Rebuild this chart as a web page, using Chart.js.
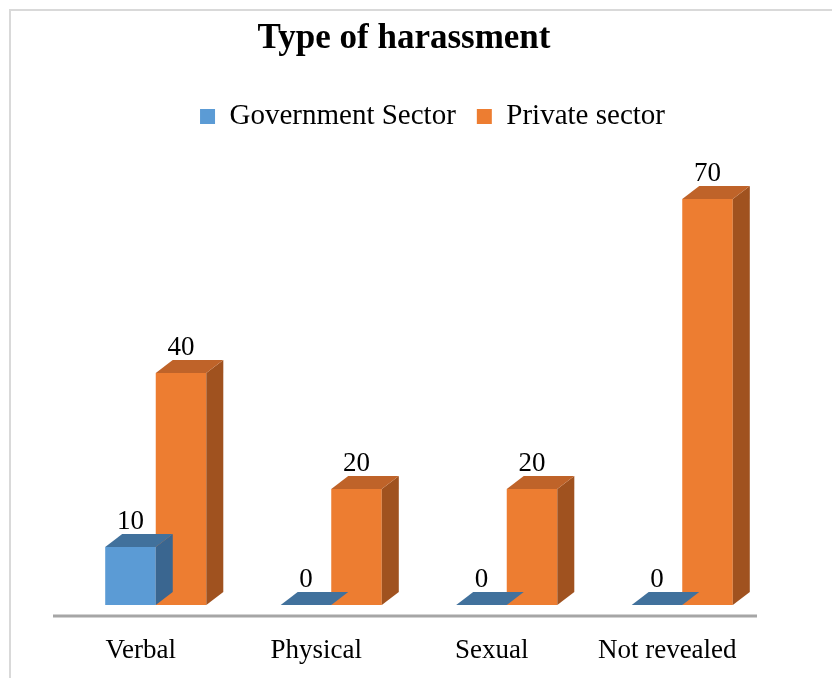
<!DOCTYPE html>
<html>
<head>
<meta charset="utf-8">
<script src="https://cdn.jsdelivr.net/npm/chart.js@4.4.1/dist/chart.umd.min.js"></script>
<style>
  body { margin: 0; background: #fff; }
  #frame {
    position: absolute; left: 9px; top: 9px; width: 900px; height: 760px;
    border-left: 2px solid #d9d9d9; border-top: 2px solid #d9d9d9;
  }
  #wrap { position: absolute; left: 0; top: 0; width: 832px; height: 678px; }
</style>
</head>
<body>
<div id="frame"></div>
<div id="wrap"><canvas id="container"></canvas></div>
<script>
var categories = ["Verbal", "Physical", "Sexual", "Not revealed"];
var governmentValues = [10, 0, 0, 0];
var privateValues = [40, 20, 20, 70];
var seriesNames = ["Government Sector", "Private sector"];

// front / top / side colours for each series
var faceColors = [
  { front: "#5b9bd5", top: "#41719c", side: "#3a6690" },
  { front: "#ed7d31", top: "#bf6329", side: "#a0521f" }
];

var depthX = 17;
var depthY = 13;

// top and side faces, drawn right after each dataset so the next series covers them
var bars3d = {
  id: "bars3d",
  afterDatasetDraw: function (chart, args) {
    var ctx = chart.ctx;
    var c = faceColors[args.index];
    args.meta.data.forEach(function (bar) {
      var p = bar.getProps(["x", "y", "base", "width"], true);
      var x1 = p.x - p.width / 2;
      var x2 = p.x + p.width / 2;
      ctx.save();
      ctx.fillStyle = c.side;
      ctx.beginPath();
      ctx.moveTo(x2, p.y);
      ctx.lineTo(x2 + depthX, p.y - depthY);
      ctx.lineTo(x2 + depthX, p.base - depthY);
      ctx.lineTo(x2, p.base);
      ctx.closePath();
      ctx.fill();
      ctx.fillStyle = c.top;
      ctx.beginPath();
      ctx.moveTo(x1, p.y);
      ctx.lineTo(x1 + depthX, p.y - depthY);
      ctx.lineTo(x2 + depthX, p.y - depthY);
      ctx.lineTo(x2, p.y);
      ctx.closePath();
      ctx.fill();
      ctx.restore();
    });
  },
  afterDatasetsDraw: function (chart) {
    var ctx = chart.ctx;
    var area = chart.chartArea;
    ctx.save();
    // floor line
    ctx.strokeStyle = "#a6a6a6";
    ctx.lineWidth = 3;
    ctx.beginPath();
    ctx.moveTo(area.left - 15, area.bottom + 11);
    ctx.lineTo(area.right - 13, area.bottom + 11);
    ctx.stroke();
    // value labels
    ctx.fillStyle = "#000";
    ctx.font = '27px "Liberation Serif"';
    ctx.textAlign = "center";
    ctx.textBaseline = "alphabetic";
    chart.data.datasets.forEach(function (ds, i) {
      chart.getDatasetMeta(i).data.forEach(function (bar, j) {
        ctx.fillText(String(ds.data[j]), bar.x, bar.y - 18);
      });
    });
    ctx.restore();
  },
  afterDraw: function (chart) {
    var ctx = chart.ctx;
    ctx.save();
    ctx.fillStyle = "#000";
    ctx.font = 'bold 35px "Liberation Serif"';
    ctx.textAlign = "center";
    ctx.textBaseline = "alphabetic";
    ctx.fillText("Type of harassment", 404, 48);
    ctx.restore();
  }
};

new Chart("container", {
  type: "bar",
  data: {
    labels: categories,
    datasets: [
      { label: seriesNames[0], data: governmentValues, backgroundColor: faceColors[0].front, borderWidth: 0 },
      { label: seriesNames[1], data: privateValues, backgroundColor: faceColors[1].front, borderWidth: 0 }
    ]
  },
  options: {
    responsive: true,
    maintainAspectRatio: false,
    animation: false,
    layout: { padding: { left: 68, right: 35, top: 81, bottom: 13 } },
    datasets: { bar: { categoryPercentage: 0.576, barPercentage: 1 } },
    plugins: {
      title: { display: false },
      tooltip: { enabled: false },
      legend: {
        position: "top",
        labels: {
          boxWidth: 15,
          boxHeight: 15,
          padding: 21,
          color: "#000",
          font: { family: "Liberation Serif", size: 29 }
        }
      }
    },
    scales: {
      x: {
        grid: { display: false, drawTicks: false },
        border: { display: false },
        ticks: {
          color: "#000",
          padding: 30,
          labelOffset: -15,
          font: { family: "Liberation Serif", size: 27 }
        },
        afterFit: function (scale) { scale.height = 60; }
      },
      y: {
        position: "right",
        min: 0,
        max: 80,
        grid: { display: false, drawTicks: false },
        border: { display: false },
        ticks: { display: false },
        afterFit: function (scale) { scale.width = 27; }
      }
    }
  },
  plugins: [bars3d]
});
</script>
</body>
</html>
